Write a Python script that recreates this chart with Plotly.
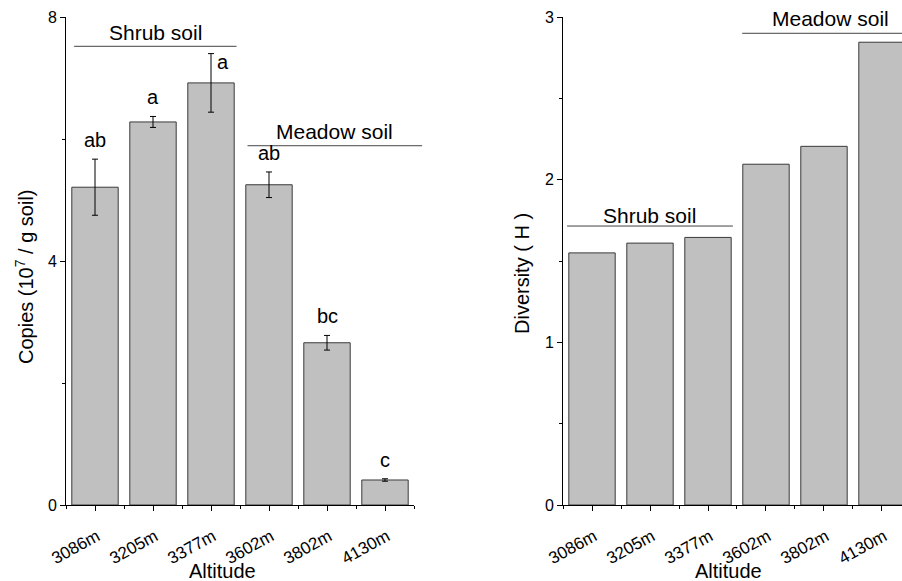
import plotly.graph_objects as go

# ---------------- data ----------------
altitudes = ["3086m", "3205m", "3377m", "3602m", "3802m", "4130m"]
copies = [5.21, 6.28, 6.92, 5.25, 2.66, 0.41]
copies_err = [0.46, 0.09, 0.48, 0.21, 0.12, 0.02]
letters = ["ab", "a", "a", "ab", "bc", "c"]
diversity = [1.55, 1.61, 1.645, 2.095, 2.205, 2.845]

# group brackets: (label, start, end, height) per panel
left_groups = [("Shrub soil", -0.36, 2.44, 7.52), ("Meadow soil", 2.63, 5.64, 5.89)]
right_groups = [("Shrub soil", -0.43, 2.43, 1.715), ("Meadow soil", 2.59, 5.64, 2.90)]

FONT = "Arial, Liberation Sans, sans-serif"
BAR_FILL = "#c0c0c0"
BAR_LINE = "#3a3a3a"

xpos = list(range(len(altitudes)))

L_XR = [-0.5, 5.5]
R_XR = [-0.5, 5.345]
L_YR = [0, 8]
R_YR = [0, 3]
YDOM = [0.1308, 0.9707]

fig = go.Figure()

fig.add_trace(go.Bar(
    x=xpos, y=copies, width=0.8,
    marker=dict(color=BAR_FILL, line=dict(color=BAR_LINE, width=1)),
    error_y=dict(type="data", array=copies_err, visible=True,
                 color="black", thickness=1, width=3),
    xaxis="x", yaxis="y", showlegend=False,
))
fig.add_trace(go.Bar(
    x=xpos, y=diversity, width=0.8,
    marker=dict(color=BAR_FILL, line=dict(color=BAR_LINE, width=1)),
    xaxis="x2", yaxis="y2", showlegend=False,
))

axis_common = dict(
    showline=True, linecolor="black", linewidth=1,
    ticks="outside", ticklen=5, tickcolor="black", tickwidth=1,
    showgrid=False, zeroline=False, automargin=False,
    tickfont=dict(family=FONT, size=16, color="black"),
)

xaxis_common = dict(
    axis_common,
    tickvals=xpos, ticktext=altitudes, tickangle=-29,
    tickfont=dict(family=FONT, size=17, color="black"),
    ticklabelshift=2, ticklabelstandoff=9, ticklabeloverflow="allow",
    minor=dict(tickvals=[i - 0.5 for i in range(len(altitudes) + 1)],
               ticklen=3, ticks="outside", tickcolor="black"),
)

fig.update_layout(
    width=902, height=581, autosize=False,
    margin=dict(l=0, r=0, t=0, b=0, pad=0, autoexpand=False),
    paper_bgcolor="white", plot_bgcolor="white",
    font=dict(family=FONT, color="black"),
    xaxis=dict(xaxis_common, domain=[66 / 902, 414 / 902], range=L_XR, anchor="y"),
    yaxis=dict(axis_common, domain=YDOM, range=L_YR, anchor="x",
               tickvals=[0, 4, 8],
               minor=dict(dtick=2, tick0=0, ticklen=3, ticks="outside", tickcolor="black")),
    xaxis2=dict(xaxis_common, domain=[563 / 902, 1.0], range=R_XR, anchor="y2"),
    yaxis2=dict(axis_common, domain=YDOM, range=R_YR, anchor="x2",
                tickvals=[0, 1, 2, 3],
                minor=dict(dtick=0.5, tick0=0, ticklen=3, ticks="outside", tickcolor="black")),
    bargap=0.2,
)

shapes = []
annotations = []


def add_groups(groups, xr, yr, xname, yname, textshift):
    for (label, x0, x1, h), ts in zip(groups, textshift):
        d0 = (x0 - xr[0]) / (xr[1] - xr[0])
        d1 = (x1 - xr[0]) / (xr[1] - xr[0])
        dy = (h - yr[0]) / (yr[1] - yr[0])
        shapes.append(dict(type="line", xref=f"{xname} domain", yref=f"{yname} domain",
                           x0=d0, x1=d1, y0=dy, y1=dy,
                           line=dict(color="#444444", width=1)))
        annotations.append(dict(text=label, xref=f"{xname} domain", yref=f"{yname} domain",
                                x=(d0 + d1) / 2, y=dy, yshift=ts, showarrow=False,
                                xanchor="center", yanchor="middle",
                                font=dict(family=FONT, size=21, color="black")))


add_groups(left_groups, L_XR, L_YR, "x", "y", [14, 14])
add_groups(right_groups, R_XR, R_YR, "x2", "y2", [11, 15])

# significance letters
for i, (v, e, t) in enumerate(zip(copies, copies_err, letters)):
    xs, ys = (12, -8) if i == 2 else (0, 19)
    annotations.append(dict(text=t, x=i, y=v + e, xref="x", yref="y",
                            xshift=xs, yshift=ys, showarrow=False,
                            xanchor="center", yanchor="middle",
                            font=dict(family=FONT, size=20, color="black")))

# axis titles
annotations += [
    dict(text="Copies (10<sup>7</sup> / g soil)", xref="paper", yref="paper",
         x=24 / 902, y=(581 - 277) / 581, textangle=-90, showarrow=False,
         xanchor="center", yanchor="middle",
         font=dict(family=FONT, size=20, color="black")),
    dict(text="Diversity ( H )", xref="paper", yref="paper",
         x=522 / 902, y=(581 - 274) / 581, textangle=-90, showarrow=False,
         xanchor="center", yanchor="middle",
         font=dict(family=FONT, size=20, color="black")),
    dict(text="Altitude", xref="paper", yref="paper",
         x=222 / 902, y=(581 - 571) / 581, showarrow=False,
         xanchor="center", yanchor="middle",
         font=dict(family=FONT, size=20, color="black")),
    dict(text="Altitude", xref="paper", yref="paper",
         x=728 / 902, y=(581 - 571) / 581, showarrow=False,
         xanchor="center", yanchor="middle",
         font=dict(family=FONT, size=20, color="black")),
]

fig.update_layout(shapes=shapes, annotations=annotations)

fig.write_html(
    "out.html",
    config={"displayModeBar": False},
    post_script="document.body.style.margin='0px';document.body.style.overflow='hidden';",
)
